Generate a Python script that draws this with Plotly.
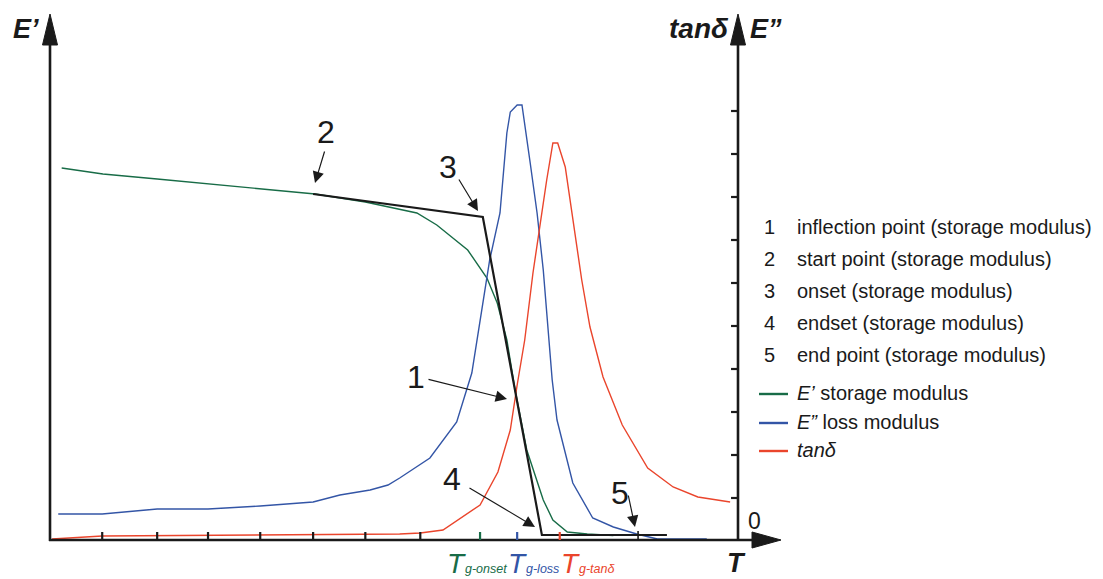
import plotly.graph_objects as go

# ---------------- data (schematic units: T 0..100, modulus 0..100) ----------------
T_storage = [1.7, 7.7, 15.6, 23.3, 30.9, 38.6, 45.9, 53.4, 56.3, 60.8, 63.6, 65.1,
             66.5, 67.7, 69.4, 71.8, 73.2, 75.3, 78.2, 82.0]
E_storage = [74.4, 73.2, 72.2, 71.2, 70.2, 69.2, 67.6, 65.4, 63.0, 58.0, 52.4, 47.4,
             40.0, 30.0, 18.0, 8.0, 4.0, 1.6, 1.2, 0.9]

T_loss = [1.2, 7.6, 15.6, 23.0, 30.6, 38.3, 42.2, 46.6, 49.2, 50.9, 55.3, 59.2, 61.4,
          62.6, 64.0, 65.5, 66.5, 67.0, 68.0, 68.7, 69.1, 69.9, 70.9, 71.8, 73.1, 73.8,
          76.1, 79.0, 82.0, 85.4, 88.4, 95.6]
E_loss = [5.2, 5.2, 6.2, 6.2, 6.8, 7.6, 9.0, 10.0, 11.0, 12.4, 16.4, 23.6, 33.4,
          44.0, 56.0, 65.4, 81.4, 85.6, 87.0, 87.0, 83.4, 75.4, 65.4, 54.0, 32.0, 24.0,
          11.4, 4.4, 2.6, 1.2, 0.2, 0.2]

T_tan = [0.3, 7.6, 50.9, 53.9, 57.2, 62.6, 65.2, 67.0, 68.0, 69.1, 70.3, 71.0, 72.3,
         73.2, 73.9, 75.0, 77.4, 78.6, 80.5, 83.3, 87.0, 90.7, 94.3, 99.0]
tan_d = [0.2, 0.8, 1.2, 1.4, 2.0, 7.0, 13.6, 22.0, 31.0, 40.0, 53.4, 60.0, 72.0,
         79.4, 79.4, 74.6, 52.0, 42.6, 32.6, 23.0, 14.4, 10.6, 8.6, 7.6]

# tangent construction on storage modulus (points 2 -> 3 -> 4 -> end)
T_constr = [38.3, 63.0, 71.6, 89.8]
E_constr = [69.2, 64.6, 1.0, 1.0]

# axis ticks
T_ticks = [7.6, 15.6, 23.0, 30.6, 38.3, 45.9, 53.9]
Tg_ticks = [62.6, 68.0, 74.2]            # onset, loss, tan delta
right_ticks = [8.4, 17.0, 25.6, 34.2, 42.8, 51.4, 60.0, 68.6, 77.2, 85.8]

legend_items = ["inflection point (storage modulus)", "start point (storage modulus)",
                "onset (storage modulus)", "endset (storage modulus)",
                "end point (storage modulus)"]

GREEN = "#186c47"
BLUE = "#3355a6"
RED = "#ea452c"
BLACK = "#1a1a1a"
FONT = "Liberation Sans, Arial, sans-serif"

W, H = 1103, 579
X0, SX = 50.0, 6.87     # pixel of T=0, pixels per T unit
Y0, SY = 540.0, 5.0     # pixel of E=0, pixels per E unit


def px(x):
    return x / W


def py(y):
    return 1 - y / H


fig = go.Figure()
fig.add_trace(go.Scatter(x=T_storage, y=E_storage, mode="lines",
                         line=dict(color=GREEN, width=1.4), hoverinfo="skip"))
fig.add_trace(go.Scatter(x=T_loss, y=E_loss, mode="lines",
                         line=dict(color=BLUE, width=1.4), hoverinfo="skip"))
fig.add_trace(go.Scatter(x=T_tan, y=tan_d, mode="lines",
                         line=dict(color=RED, width=1.4), hoverinfo="skip"))
fig.add_trace(go.Scatter(x=T_constr, y=E_constr, mode="lines",
                         line=dict(color=BLACK, width=2.2), hoverinfo="skip"))

shapes = []
ax_line = dict(color=BLACK, width=2.6)
# axes lines (paper coords)
shapes.append(dict(type="line", xref="paper", yref="paper", x0=px(50), x1=px(50),
                   y0=py(541), y1=py(40), line=ax_line))
shapes.append(dict(type="line", xref="paper", yref="paper", x0=px(738), x1=px(738),
                   y0=py(541), y1=py(40), line=ax_line))
shapes.append(dict(type="line", xref="paper", yref="paper", x0=px(49), x1=px(758),
                   y0=py(540), y1=py(540), line=ax_line))


def tri(p1, p2, p3):
    return dict(type="path", xref="paper", yref="paper",
                path=f"M{px(p1[0])},{py(p1[1])} L{px(p2[0])},{py(p2[1])} "
                     f"L{px(p3[0])},{py(p3[1])} Z",
                fillcolor=BLACK, line=dict(color=BLACK, width=1))


shapes.append(tri((50, 14), (42.5, 45), (57.5, 45)))
shapes.append(tri((738, 14), (730.5, 45), (745.5, 45)))
shapes.append(tri((781, 540), (752, 532), (752, 548)))

# bottom black ticks
for t in T_ticks:
    shapes.append(dict(type="line", xref="x", yref="y", x0=t, x1=t, y0=0, y1=8 / SY,
                       line=dict(color=BLACK, width=2.2)))
for t, c in zip(Tg_ticks, [GREEN, BLUE, RED]):
    shapes.append(dict(type="line", xref="x", yref="y", x0=t, x1=t, y0=0, y1=8 / SY,
                       line=dict(color=c, width=2.2)))
# right axis ticks
for v in right_ticks:
    shapes.append(dict(type="line", xref="x", yref="y", x0=100.15 - 7 / SX, x1=100.15,
                       y0=v, y1=v, line=dict(color=BLACK, width=2.2)))
# small tick at end point 5
shapes.append(dict(type="line", xref="x", yref="y", x0=85.6, x1=85.6, y0=0.0, y1=1.8,
                   line=dict(color=BLACK, width=1.6)))

# legend sample lines
for yy, c in zip([394, 423, 451], [GREEN, BLUE, RED]):
    shapes.append(dict(type="line", xref="paper", yref="paper", x0=px(759), x1=px(788),
                       y0=py(yy), y1=py(yy), line=dict(color=c, width=2.4)))

ann = []


def text(x, y, s, size, color=BLACK, xanchor="center", yanchor="middle"):
    ann.append(dict(x=px(x), y=py(y), xref="paper", yref="paper", text=s,
                    showarrow=False, xanchor=xanchor, yanchor=yanchor,
                    font=dict(family=FONT, size=size, color=color)))


# axis titles
text(26, 29, "<b><i>E’</i></b>", 27)
text(731, 29, "<b><i>tanδ</i></b>", 28, xanchor="right")
text(748, 29, "<b><i>E”</i></b>", 27, xanchor="left")
text(736, 563, "<b><i>T</i></b>", 27)
text(754, 521, "0", 23)

# Tg labels
for (xT, xs, sub, c) in [(456, 463, "g-onset", GREEN), (517, 524, "g-loss", BLUE),
                         (570, 577, "g-tanδ", RED)]:
    text(xT, 563, "<i>T</i>", 28, color=c)
    text(xs, 569, f"<i>{sub}</i>", 12.5, color=c, xanchor="left")

# numbered labels
for (x, y, s) in [(416, 377, "1"), (326, 132, "2"), (448, 167, "3"),
                  (452, 479, "4"), (620, 493, "5")]:
    text(x, y, s, 32)

# arrows (tip, tail offset in px)
for (tx, ty, axo, ayo) in [(315, 183, 10, -33), (478, 211, -20, -33),
                           (507, 399, -80, -20), (535, 527, -67, -40),
                           (635, 527, -7, -33)]:
    ann.append(dict(x=px(tx), y=py(ty), xref="paper", yref="paper", text="",
                    showarrow=True, ax=axo, ay=ayo, arrowhead=2, arrowsize=1.9,
                    arrowwidth=1.2, arrowcolor=BLACK, standoff=0))

# legend text
for i, (yy, s) in enumerate(zip([227, 259, 291, 323, 355], legend_items)):
    text(769, yy, str(i + 1), 20)
    text(795, yy, s, 20, xanchor="left")
text(795, 393, "<i>E’</i> storage modulus", 20, xanchor="left")
text(795, 422, "<i>E”</i> loss modulus", 20, xanchor="left")
text(795, 450, "<i>tanδ</i>", 20, xanchor="left")

fig.update_layout(
    width=W, height=H, margin=dict(l=0, r=0, t=0, b=0),
    paper_bgcolor="white", plot_bgcolor="white", showlegend=False,
    xaxis=dict(range=[-X0 / SX, (W - X0) / SX], visible=False, fixedrange=True),
    yaxis=dict(range=[(Y0 - H) / SY, Y0 / SY], visible=False, fixedrange=True),
    shapes=shapes, annotations=ann,
)
fig.write_html("out.html")
